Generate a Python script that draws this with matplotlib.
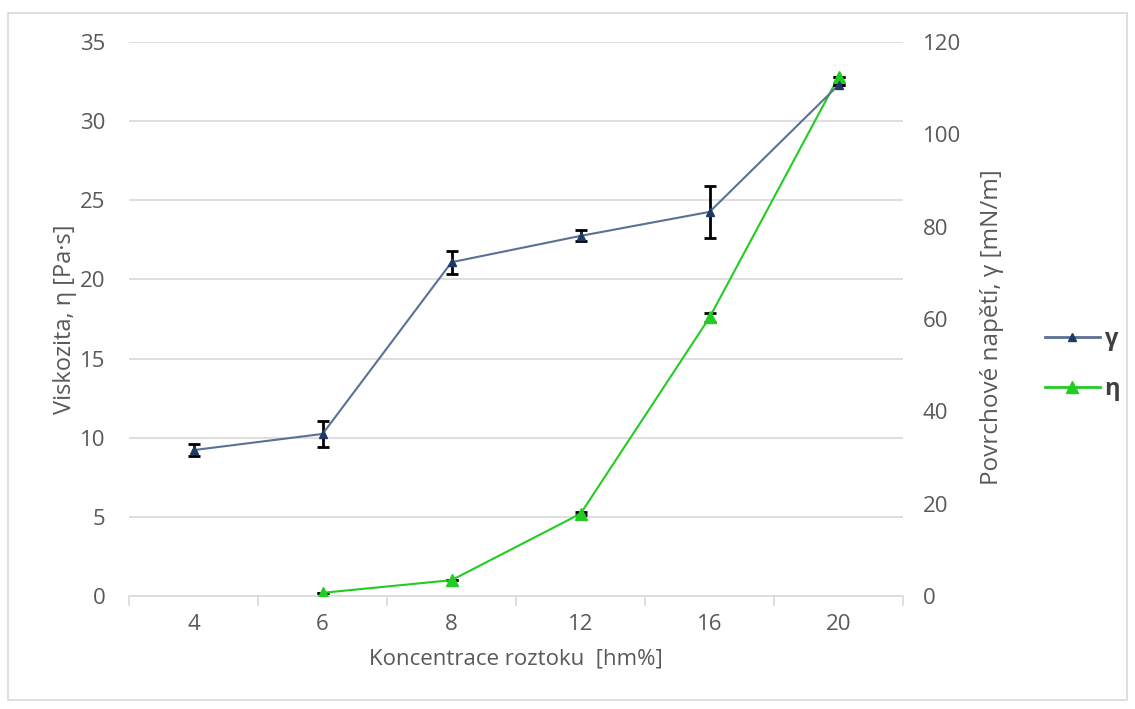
import matplotlib.pyplot as plt
import numpy as np
from matplotlib.lines import Line2D
from matplotlib.patches import Rectangle

plt.rcParams['font.family'] = ['Open Sans', 'DejaVu Sans']

concentrations = ['4', '6', '8', '12', '16', '20']
# surface tension (right axis), mN/m
gamma = [31.6, 35.1, 72.3, 78.0, 83.2, 110.7]
gamma_err = [1.3, 2.8, 2.5, 1.2, 5.7, 0.0]
# viscosity (left axis), Pa.s
eta = [np.nan, 0.2, 1.0, 5.2, 17.6, 32.8]
eta_err = [0.0, 0.0, 0.0, 0.1, 0.3, 0.0]

text_col = '#595959'
blue_line = '#5A7196'
blue_mark = '#1F3864'
green = '#22CC22'
fs = 16

fig = plt.figure(figsize=(11.35, 7.09), dpi=100)
fig.patches.append(Rectangle((0.007, 0.012), 0.986, 0.97, transform=fig.transFigure,
                             fill=False, edgecolor='#D9D9D9', lw=1.2))
ax = fig.add_axes([0.1137, 0.1594, 0.682, 0.7814])
ax2 = ax.twinx()

x = np.arange(len(concentrations))

ax.errorbar(x, eta, yerr=eta_err, color=green, lw=1.5, marker='^', ms=9,
            ecolor='black', elinewidth=2, capsize=4, capthick=2, zorder=3)
ax2.errorbar(x, gamma, yerr=gamma_err, color=blue_line, lw=1.5, marker='^', ms=6,
             mfc=blue_mark, mec=blue_mark, ecolor='black', elinewidth=2,
             capsize=4, capthick=2, zorder=3)

ax.set_xlim(-0.5, 5.5)
ax.set_ylim(0, 35)
ax2.set_ylim(0, 120)
ax.set_yticks(range(0, 36, 5))
ax2.set_yticks(range(0, 121, 20))
ax.set_xticks(x)
ax.set_xticklabels(concentrations)
ax.set_xticks(np.arange(-0.5, 6, 1), minor=True)

ax.grid(axis='y', color='#D9D9D9', lw=1.2)
ax.set_axisbelow(True)
for a in (ax, ax2):
    for s in a.spines.values():
        s.set_visible(False)
ax.spines['bottom'].set_visible(True)
ax.spines['bottom'].set_color('#D9D9D9')
ax.spines['bottom'].set_linewidth(1.2)

ax.tick_params(axis='x', which='major', length=0, pad=13, labelsize=fs, labelcolor=text_col)
ax.tick_params(axis='x', which='minor', length=7, color='#D9D9D9', width=1.2)
ax.tick_params(axis='y', length=0, pad=17, labelsize=fs, labelcolor=text_col)
ax2.tick_params(axis='y', length=0, pad=14, labelsize=fs, labelcolor=text_col)

ax.set_xlabel('Koncentrace roztoku  [hm%]', fontsize=fs, color=text_col, labelpad=10)
ax.set_ylabel('Viskozita, η [Pa·s]', fontsize=17, color=text_col, labelpad=2)
ax2.set_ylabel('Povrchové napětí, γ [mN/m]', fontsize=17.5, color=text_col, labelpad=14)
ax2.yaxis.label.set_y(0.485)

handles = [Line2D([], [], color=blue_line, lw=2, marker='^', ms=6, mfc=blue_mark, mec=blue_mark),
           Line2D([], [], color=green, lw=2, marker='^', ms=9)]
leg = fig.legend(handles, ['γ', 'η'], loc='center left', bbox_to_anchor=(0.921, 0.486),
                 frameon=False, fontsize=17, handlelength=2.3, labelspacing=1.1,
                 handletextpad=0.2, borderpad=0, borderaxespad=0)
for t in leg.get_texts():
    t.set_color('#404040')
    t.set_fontweight('bold')

fig.savefig('out.png', dpi=100)
